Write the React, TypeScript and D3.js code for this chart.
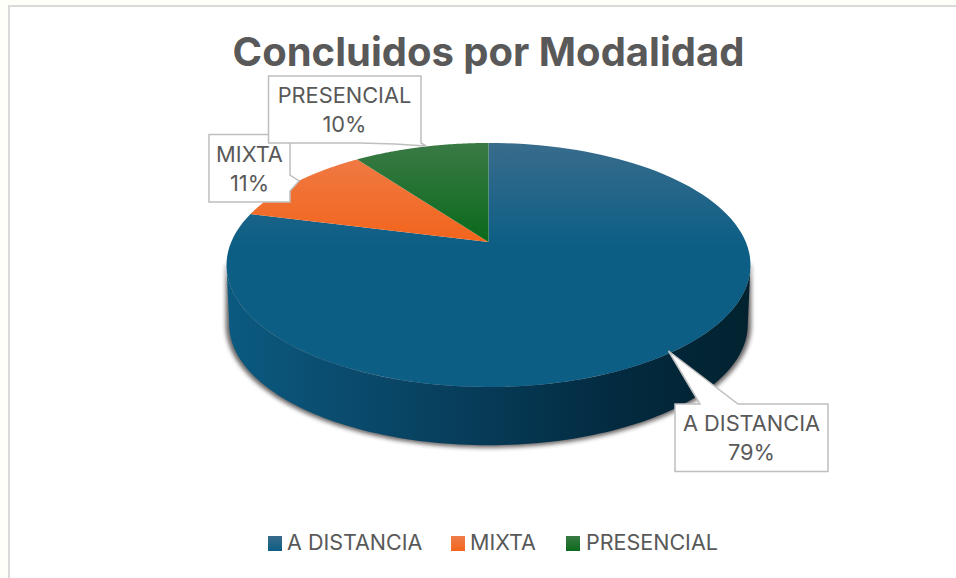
import React from "react";
import * as d3 from "d3";

const categories = ["A DISTANCIA", "MIXTA", "PRESENCIAL"];
const shares = [79, 11, 10];
const colorsTop = ["#386c8c", "#ef7d4a", "#3a7a45"];
const colorsBottom = ["#0d5e85", "#f2651d", "#0b6a1c"];
const W = 956, H = 578;
const apex = { x: 488.5, y: 242 };
const persp = 0.1885, bx = 257.3, by = 117.7, depth = 60;

function project(angle: number, r = 1, dy = 0): [number, number] {
  const u = r * Math.sin(angle);
  const v = -r * Math.cos(angle);
  const w = 1 - persp * v;
  return [apex.x + (bx * u) / w, apex.y + (by * v) / w + dy];
}
const line = d3.line();
const pieLayout = d3.pie<number>().sort(null);
const arcs = pieLayout(shares);
function rimPoints(a0: number, a1: number, dy = 0, r = 1) {
  return d3.range(0, 121).map((i) => project(a0 + ((a1 - a0) * i) / 120, r, dy));
}
function sectorPath(a0: number, a1: number) {
  return line([[apex.x, apex.y], ...rimPoints(a0, a1)])! + "Z";
}
const widest = Math.acos(-persp);
const wallShape = (r: number) =>
  line([...rimPoints(widest, 2 * Math.PI - widest), ...rimPoints(widest, 2 * Math.PI - widest, depth, r).reverse()])! + "Z";
const wallPath = wallShape(0.99);
const shadowPath = wallShape(1);

const sans = "Inter, 'Liberation Sans', sans-serif";
const textColor = "#595959";

function Label({ cx, y0, lines, fs, path }: any) {
  return (
    <g>
      <path d={path} fill="#fff" stroke="#bfbfbf" strokeWidth={1.5} />
      {lines.map((t: string, i: number) => (
        <text key={t} x={cx} y={y0 + i * 29} textAnchor="middle" fontFamily={sans} fontSize={fs} fill={textColor}>{t}</text>
      ))}
    </g>
  );
}
const callout = (pts: [number, number][]) => line(pts)! + "Z";

const legendX = [268, 451, 566];
const legendTextX = [287, 470, 586];

export default function App() {
  return (
    <svg width={W} height={H} style={{ position: "absolute", left: 0, top: 0 }}>
      <defs>
        {categories.map((c, i) => (
          <linearGradient key={c} id={`top${i}`} gradientUnits="userSpaceOnUse" x1={0} x2={0} y1={143} y2={i === 0 ? 245 : 240}>
            <stop offset="0" stopColor={colorsTop[i]} />
            <stop offset="1" stopColor={colorsBottom[i]} />
          </linearGradient>
        ))}
        {categories.map((c, i) => (
          <linearGradient key={c} id={`leg${i}`} x1="0" x2="0" y1="0" y2="1">
            <stop offset="0" stopColor={colorsTop[i]} />
            <stop offset="1" stopColor={colorsBottom[i]} />
          </linearGradient>
        ))}
        <linearGradient id="wall" gradientUnits="userSpaceOnUse" x1={227} x2={751} y1={0} y2={0}>
          <stop offset="0" stopColor="#0b5a80" />
          <stop offset="0.25" stopColor="#0a4a6c" />
          <stop offset="0.5" stopColor="#063a56" />
          <stop offset="0.75" stopColor="#032a3f" />
          <stop offset="1" stopColor="#02222f" />
        </linearGradient>
        <filter id="shadow" x="-10%" y="-20%" width="120%" height="140%">
          <feGaussianBlur stdDeviation="2" />
        </filter>
      </defs>
      <rect x={0} y={0} width={W} height={H} fill="#fffffa" />
      <rect x={9} y={6} width={W + 10} height={H + 10} fill="#fff" stroke="#d9d9d9" strokeWidth={2} />
      <text x={488.5} y={66} textAnchor="middle" fontFamily={sans} fontWeight={700} fontSize={40} fill={textColor}>Concluidos por Modalidad</text>

      <path d={shadowPath} fill="#3a3434" stroke="#3a3434" strokeWidth={1.5} opacity={0.75} filter="url(#shadow)" />
      <path d={wallPath} fill="url(#wall)" />
      {arcs.map((a, i) => (
        <path key={i} d={sectorPath(a.startAngle, a.endAngle)} fill={`url(#top${i})`} />
      ))}

      <Label cx={249.5} y0={162} fs={21.8} lines={["MIXTA", "11%"]}
        path={callout([[209, 134.5], [290, 134.5], [290, 175], [299, 181], [290, 191], [290, 202], [209, 202]])} />
      <Label cx={344.5} y0={103} fs={21.8} lines={["PRESENCIAL", "10%"]}
        path={callout([[268.5, 76], [421, 76], [421, 143], [426, 146], [395, 144], [360, 143], [268.5, 143]])} />
      <Label cx={751.5} y0={431} fs={21.8} lines={["A DISTANCIA", "79%"]}
        path={callout([[675, 404], [700, 404], [668.5, 351], [738, 404], [828, 404], [828, 471.5], [675, 471.5]])} />

      {categories.map((c, i) => (
        <g key={c}>
          <rect x={legendX[i]} y={536} width={14} height={15} fill={`url(#leg${i})`} />
          <text x={legendTextX[i]} y={550} fontFamily={sans} fontSize={21.5} fill={textColor}>{c}</text>
        </g>
      ))}
    </svg>
  );
}
